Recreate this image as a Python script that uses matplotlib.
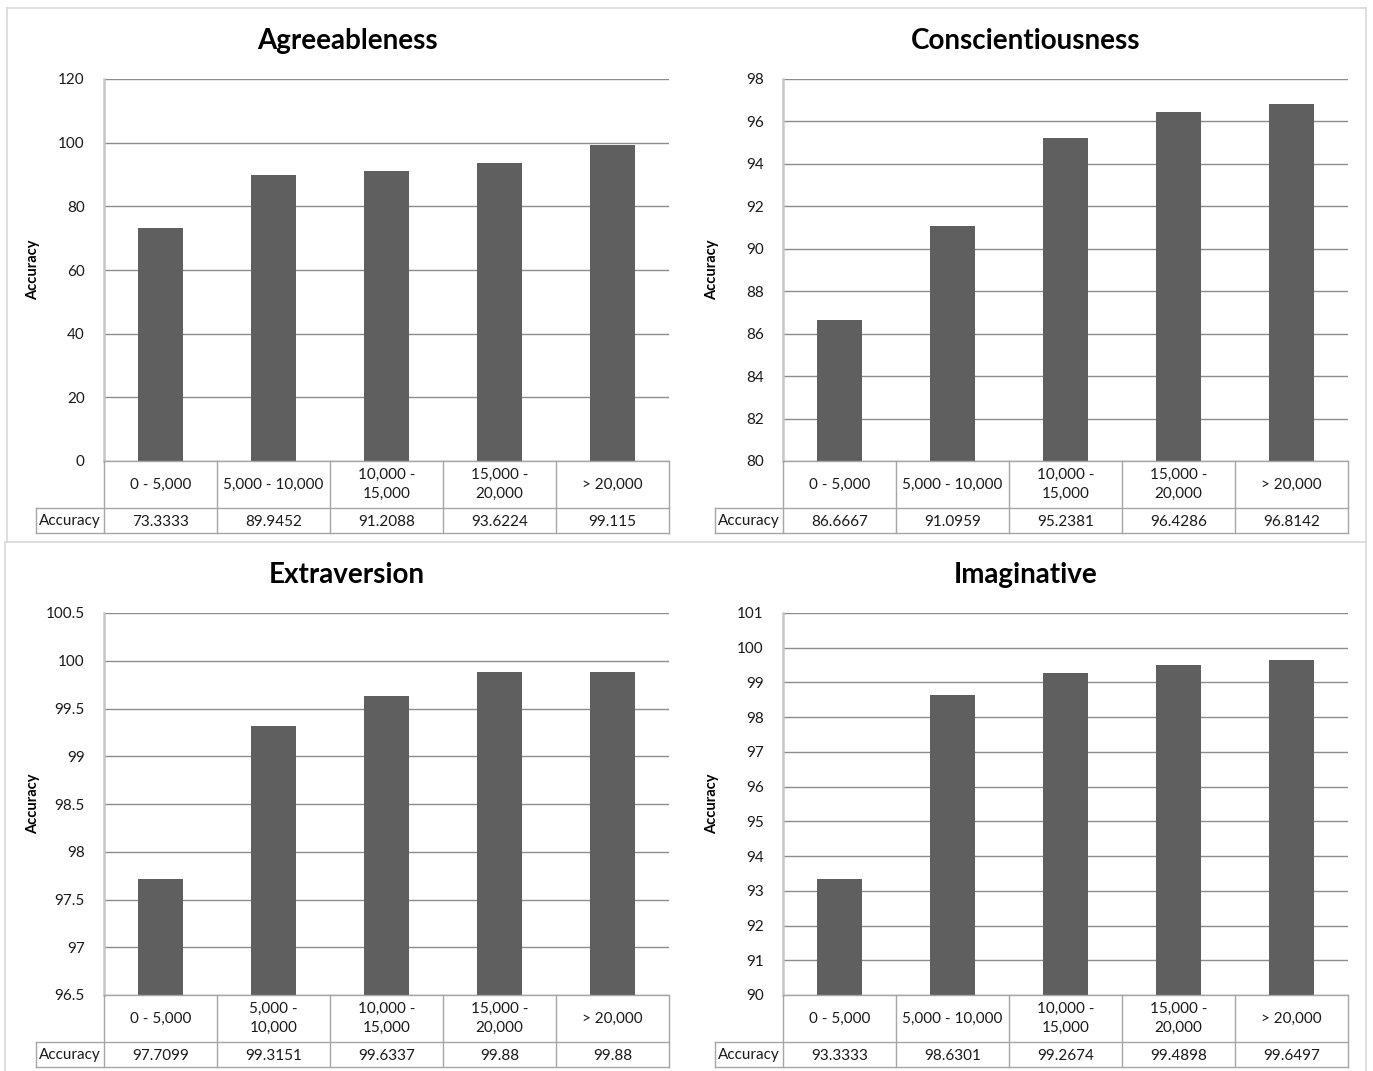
import matplotlib
matplotlib.use("Agg")
import matplotlib.pyplot as plt
from matplotlib.lines import Line2D
from matplotlib.ticker import FuncFormatter

plt.rcParams['font.family'] = ['Lato', 'DejaVu Sans']

# Data
titles = ["Agreeableness", "Conscientiousness", "Extraversion", "Imaginative"]
agreeableness = [73.3333, 89.9452, 91.2088, 93.6224, 99.115]
conscientiousness = [86.6667, 91.0959, 95.2381, 96.4286, 96.8142]
extraversion = [97.7099, 99.3151, 99.6337, 99.88, 99.88]
imaginative = [93.3333, 98.6301, 99.2674, 99.4898, 99.6497]
labels_wide = ["0 - 5,000", "5,000 - 10,000", "10,000 -\n15,000", "15,000 -\n20,000", "> 20,000"]
labels_narrow = ["0 - 5,000", "5,000 -\n10,000", "10,000 -\n15,000", "15,000 -\n20,000", "> 20,000"]
value_labels = [
    ["73.3333", "89.9452", "91.2088", "93.6224", "99.115"],
    ["86.6667", "91.0959", "95.2381", "96.4286", "96.8142"],
    ["97.7099", "99.3151", "99.6337", "99.88", "99.88"],
    ["93.3333", "98.6301", "99.2674", "99.4898", "99.6497"],
]
y_limits = [(0, 120), (80, 98), (96.5, 100.5), (90, 101)]
y_steps = [20, 2, 0.5, 1]
series = [agreeableness, conscientiousness, extraversion, imaginative]
cat_labels = [labels_wide, labels_wide, labels_narrow, labels_wide]

W, H = 1373, 1071
fig = plt.figure(figsize=(W / 100, H / 100), dpi=100)

BAR = "#5f5f5f"
GRID = "#8c8c8c"
AXIS = "#c6c6c6"
TABLE = "#a6a6a6"
FRAME = "#d9d9d9"
TXT = "#1a1a1a"


def px_axes(x0, y0, x1, y1, **kw):
    return fig.add_axes([x0 / W, 1 - y1 / H, (x1 - x0) / W, (y1 - y0) / H], **kw)


# outer frame lines
overlay = fig.add_axes([0, 0, 1, 1], zorder=-5)
overlay.set_xlim(0, W)
overlay.set_ylim(H, 0)
overlay.axis("off")
for xs, ys in [((7, 1366), (8, 8)), ((7, 7), (8, 542)), ((1366, 1366), (8, 1071)),
               ((5, 1366), (542, 542)), ((5, 5), (542, 1071))]:
    overlay.add_line(Line2D(xs, ys, color=FRAME, lw=1.2))

panel_origin = [(0, 0), (679, 0), (0, 534), (679, 534)]
fmt = FuncFormatter(lambda v, p: "{:g}".format(round(v, 3)))

for i in range(4):
    ox, oy = panel_origin[i]
    px0, px1 = 104 + ox, 669 + ox
    py0, py1 = 79 + oy, 461 + oy
    lab_x0 = 36 + ox
    ax = px_axes(px0, py0, px1, py1)
    lo, hi = y_limits[i]
    ax.bar(range(5), series[i], width=0.4, color=BAR, zorder=3)
    ax.set_xlim(-0.5, 4.5)
    ax.set_ylim(lo, hi)
    n = int(round((hi - lo) / y_steps[i]))
    ax.set_yticks([lo + k * y_steps[i] for k in range(n + 1)])
    ax.yaxis.set_major_formatter(fmt)
    ax.set_xticks([])
    ax.grid(axis="y", color=GRID, lw=1.0, zorder=0)
    for s in ["right", "bottom", "top"]:
        ax.spines[s].set_visible(False)
    ax.spines["left"].set_color(AXIS)
    ax.spines["left"].set_linewidth(1.8)
    ax.tick_params(axis="y", length=0, pad=14, labelsize=11, labelcolor=TXT)
    ax.set_ylabel("Accuracy", fontsize=10.5, fontweight="bold")
    ax.yaxis.set_label_coords((40 + ox - px0) / (px1 - px0), 0.5)
    fig.text((347 + ox) / W, 1 - (41 + oy) / H, titles[i],
             ha="center", va="center", fontsize=20, fontweight="bold")

    # data table below the plot area
    cell = (px1 - px0) / 5.0
    tx0 = -0.5 - (px0 - lab_x0) / cell
    tab = px_axes(lab_x0, py1, px1, 533 + oy)
    tab.set_xlim(tx0, 4.5)
    tab.set_ylim(72, 0)
    tab.axis("off")
    row1 = 47
    kw = dict(color=TABLE, lw=1.0, clip_on=False)
    tab.add_line(Line2D([-0.5, 4.5], [0, 0], **kw))
    tab.add_line(Line2D([tx0, 4.5], [row1, row1], **kw))
    tab.add_line(Line2D([tx0, 4.5], [72, 72], **kw))
    tab.add_line(Line2D([tx0, tx0], [row1, 72], **kw))
    for k in range(6):
        tab.add_line(Line2D([k - 0.5, k - 0.5], [0, 72], **kw))
    tab.text((tx0 - 0.5) / 2, (row1 + 72) / 2 + 1, "Accuracy", ha="center", va="center",
             fontsize=11, color=TXT)
    for k in range(5):
        tab.text(k, row1 / 2, cat_labels[i][k], ha="center", va="center",
                 fontsize=11, color=TXT, linespacing=1.5)
        tab.text(k, (row1 + 72) / 2 + 1, value_labels[i][k], ha="center", va="center",
                 fontsize=11, color=TXT)

fig.savefig("out.png", dpi=100, facecolor="white")
